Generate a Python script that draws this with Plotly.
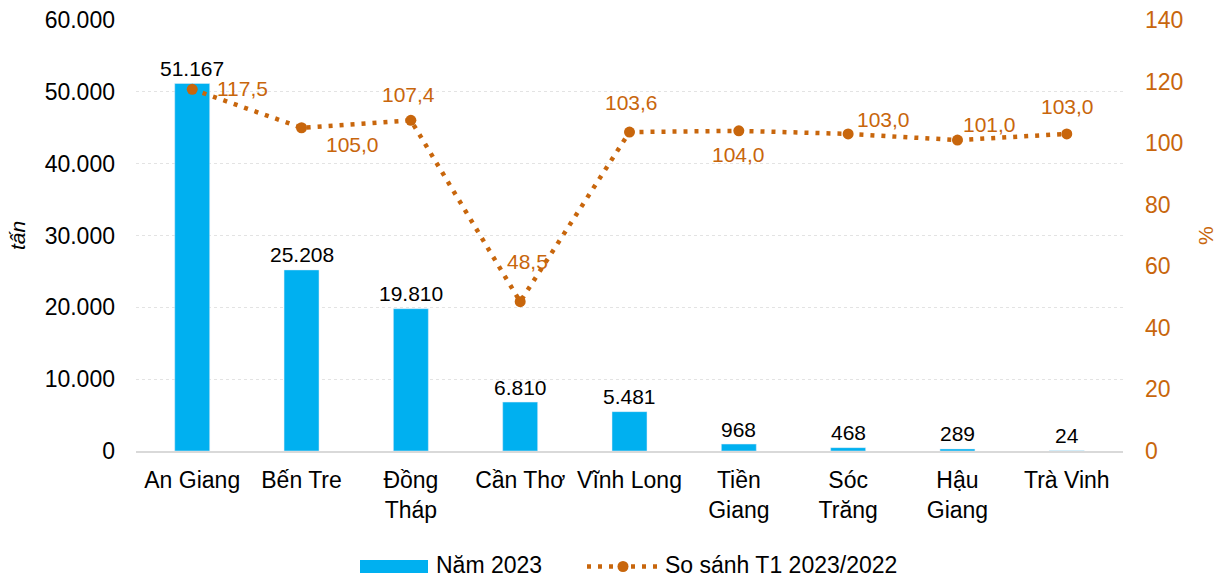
import plotly.graph_objects as go

categories = ["An Giang", "Bến Tre", "Đồng<br>Tháp", "Cần Thơ", "Vĩnh Long",
              "Tiền<br>Giang", "Sóc<br>Trăng", "Hậu<br>Giang", "Trà Vinh"]
values_2023 = [51167, 25208, 19810, 6810, 5481, 968, 468, 289, 24]
ratio = [117.5, 105.0, 107.4, 48.5, 103.6, 104.0, 103.0, 101.0, 103.0]
left_ticks = [0, 10000, 20000, 30000, 40000, 50000, 60000]
right_ticks = [0, 20, 40, 60, 80, 100, 120, 140]

# label offsets (px) of the ratio labels relative to their markers
ratio_dx = [50, 51, -2, 7, 2, 0, 35, 32, 1]
ratio_dy = [1, -17, 26, 40, 30, -24, 14, 16, 27]

BLUE = "#00B0F0"
ORANGE = "#C8660C"
FONT = "Liberation Sans, Arial, sans-serif"

W, H = 1222, 579
ML, MR, MT, MB = 136, 99, 20, 128
PW = W - ML - MR
PH = H - MT - MB

def px_x(x):
    return (x - ML) / PW

def px_y(y):
    return (H - MB - y) / PH

def fmt_int(v):
    return f"{v:,}".replace(",", ".")

fig = go.Figure()
fig.add_trace(go.Bar(
    x=categories, y=values_2023, name="Năm 2023",
    marker=dict(color=BLUE),
    cliponaxis=False, showlegend=False,
))
fig.add_trace(go.Scatter(
    x=categories, y=ratio, name="So sánh T1 2023/2022", yaxis="y2",
    mode="lines+markers",
    line=dict(color=ORANGE, width=4.5, dash="4px,7px"),
    marker=dict(color=ORANGE, size=11),
    cliponaxis=False, showlegend=False,
))

annotations = []
for c, v in zip(categories, values_2023):
    annotations.append(dict(
        x=c, y=v, xref="x", yref="y", text=fmt_int(v), showarrow=False,
        xanchor="center", yanchor="middle", yshift=15,
        font=dict(size=21, color="black", family=FONT)))
for c, v, dx, dy in zip(categories, ratio, ratio_dx, ratio_dy):
    annotations.append(dict(
        x=c, y=v, xref="x", yref="y2", text=f"{v:.1f}".replace(".", ","),
        showarrow=False, xanchor="center", yanchor="middle",
        xshift=dx, yshift=dy,
        font=dict(size=21, color=ORANGE, family=FONT)))

shapes = [
    # legend: bar swatch
    dict(type="rect", xref="paper", yref="paper",
         x0=px_x(360), x1=px_x(428), y0=px_y(573), y1=px_y(560),
         fillcolor=BLUE, line=dict(width=0)),
    # legend: dotted line swatch
    dict(type="line", xref="paper", yref="paper",
         x0=px_x(587), x1=px_x(659), y0=px_y(566.5), y1=px_y(566.5),
         line=dict(color=ORANGE, width=4.5, dash="4px,7px")),
    dict(type="circle", xref="paper", yref="paper",
         x0=px_x(617.5), x1=px_x(628.5), y0=px_y(572), y1=px_y(561),
         fillcolor=ORANGE, line=dict(width=0)),
]
annotations += [
    dict(text="Năm 2023", xref="paper", yref="paper", x=px_x(435), y=px_y(578.5),
         xanchor="left", yanchor="bottom", showarrow=False, borderpad=0,
         font=dict(size=23, color="black", family=FONT)),
    dict(text="So sánh T1 2023/2022", xref="paper", yref="paper", x=px_x(664), y=px_y(578.5),
         xanchor="left", yanchor="bottom", showarrow=False, borderpad=0,
         font=dict(size=23, color="black", family=FONT)),
    dict(text="<i>tấn</i>", xref="paper", yref="paper", x=px_x(17), y=px_y(236),
         xanchor="center", yanchor="middle", textangle=-90, showarrow=False,
         font=dict(size=21, color="black", family=FONT)),
    dict(text="%", xref="paper", yref="paper", x=px_x(1205), y=px_y(236),
         xanchor="center", yanchor="middle", textangle=-90, showarrow=False,
         font=dict(size=21, color=ORANGE, family=FONT)),
]

fig.update_layout(
    width=W, height=H,
    margin=dict(l=ML, r=MR, t=MT, b=MB, autoexpand=False),
    paper_bgcolor="white", plot_bgcolor="white",
    font=dict(family=FONT, size=23, color="black"),
    bargap=0.68,
    showlegend=False,
    shapes=shapes, annotations=annotations,
    xaxis=dict(showgrid=False, showline=True, linecolor="#D9D9D9", linewidth=1.5,
               tickfont=dict(size=23), ticks="", automargin=False,
               ticklabelstandoff=8),
    yaxis=dict(range=[0, 60000], tickvals=left_ticks,
               ticktext=[fmt_int(v) for v in left_ticks],
               showgrid=True, gridcolor="#E3E3E3", griddash="dot", gridwidth=1,
               zeroline=False, tickfont=dict(size=23), ticklabelstandoff=20,
               automargin=False),
    yaxis2=dict(range=[0, 140], tickvals=right_ticks, overlaying="y", side="right",
                showgrid=False, zeroline=False,
                tickfont=dict(size=23, color=ORANGE), ticklabelstandoff=21,
                automargin=False),
)

fig.write_html("out.html", config={"displayModeBar": False},
               post_script="document.body.style.margin='0';document.body.style.overflow='hidden';")
